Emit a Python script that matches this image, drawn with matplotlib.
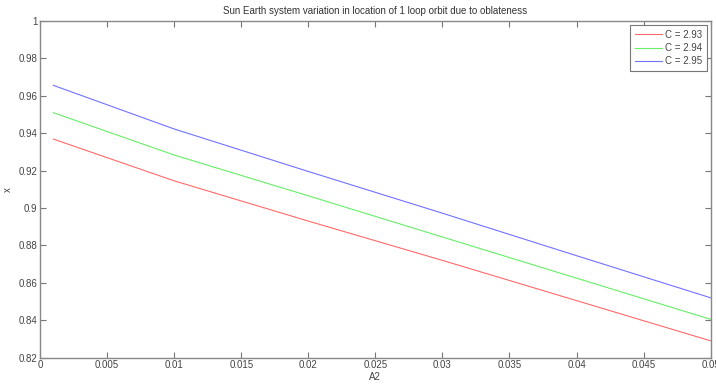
import matplotlib
matplotlib.use("Agg")
import matplotlib.pyplot as plt

plt.rcParams['font.family'] = ['Liberation Sans', 'DejaVu Sans']

a2 = [0.001, 0.01, 0.02, 0.03, 0.04, 0.05]
x_c293 = [0.9368, 0.9145, 0.8930, 0.8720, 0.8505, 0.8290]
x_c294 = [0.9509, 0.9283, 0.9065, 0.8845, 0.8625, 0.8405]
x_c295 = [0.9655, 0.9422, 0.9195, 0.8972, 0.8745, 0.8520]
labels = ['C = 2.93', 'C = 2.94', 'C = 2.95']
xticks = [0, 0.005, 0.01, 0.015, 0.02, 0.025, 0.03, 0.035, 0.04, 0.045, 0.05]
xticklabels = ['0', '0.005', '0.01', '0.015', '0.02', '0.025', '0.03', '0.035', '0.04', '0.045', '0.05']
yticks = [0.82, 0.84, 0.86, 0.88, 0.9, 0.92, 0.94, 0.96, 0.98, 1.0]
yticklabels = ['0.82', '0.84', '0.86', '0.88', '0.9', '0.92', '0.94', '0.96', '0.98', '1']

fig = plt.figure(figsize=(7.16, 3.85), dpi=100)
ax = fig.add_axes([0.0559, 0.0709, 0.9367, 0.8751])

ax.plot(a2, x_c293, color='#ff6a6a', lw=0.8, label=labels[0])
ax.plot(a2, x_c294, color='#66ee66', lw=0.8, label=labels[1])
ax.plot(a2, x_c295, color='#7272ff', lw=0.8, label=labels[2])

ax.set_xlim(0, 0.05)
ax.set_ylim(0.82, 1.0)
ax.set_xticks(xticks)
ax.set_xticklabels(xticklabels)
ax.set_yticks(yticks)
ax.set_yticklabels(yticklabels)
ax.tick_params(direction='in', top=True, right=True, length=4, width=0.8,
               color='#777777', labelsize=7, labelcolor='#444444', pad=2)
for s in ax.spines.values():
    s.set_color('#888888')
    s.set_linewidth(1.0)

ax.set_title('Sun Earth system variation in location of 1 loop orbit due to oblateness',
             fontsize=7, color='#333333', pad=5)
ax.set_xlabel('A2', fontsize=7, color='#444444', labelpad=1)
ax.set_ylabel('x', fontsize=7, color='#444444', labelpad=4)

leg = ax.legend(loc='upper right', fontsize=7, handlelength=2.8, handletextpad=0.3,
                borderpad=0.5, labelspacing=0.35, fancybox=False, framealpha=1,
                borderaxespad=0.4)
leg.get_frame().set_edgecolor('#777777')
leg.get_frame().set_linewidth(0.8)
for t in leg.get_texts():
    t.set_color('#444444')

fig.savefig('out.png', dpi=100)
